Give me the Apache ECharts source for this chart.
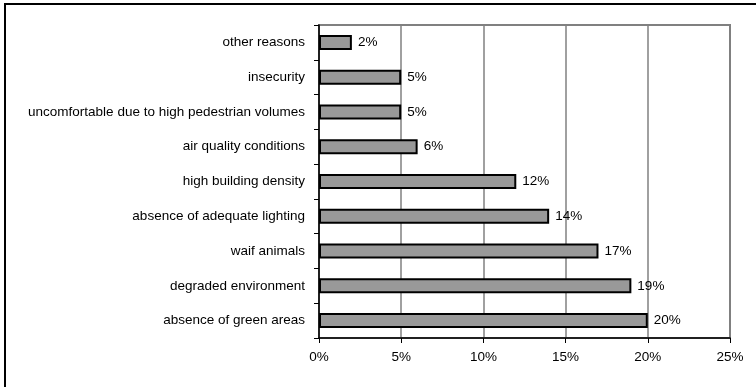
<!DOCTYPE html>
<html>
<head>
<meta charset="utf-8">
<style>
  html, body { margin: 0; padding: 0; background: #fff; }
  #chart { width: 756px; height: 387px; }
</style>
<script src="https://cdn.jsdelivr.net/npm/echarts@6/dist/echarts.min.js"></script>
</head>
<body>
<div id="chart"></div>
<script>
// Reasons, listed from bottom to top of the chart
const categories = [
  'absence of green areas',
  'degraded environment',
  'waif animals',
  'absence of adequate lighting',
  'high building density',
  'air quality conditions',
  'uncomfortable due to high pedestrian volumes',
  'insecurity',
  'other reasons'
];
// Share of respondents (%)
const shares = [20, 19, 17, 14, 12, 6, 5, 5, 2];
const xTicks = [0, 5, 10, 15, 20, 25];

const chart = echarts.init(document.getElementById('chart'), null, { renderer: 'canvas' });

const font = 'Arial, "Liberation Sans", sans-serif';
const fontSize = 13.5;

chart.setOption({
  animation: false,
  backgroundColor: '#fff',
  graphic: [{
    type: 'rect',
    shape: { x: 5, y: 4, width: 760, height: 400 },
    style: { fill: 'none', stroke: '#000', lineWidth: 2 },
    silent: true,
    z: -10
  }],
  grid: {
    left: 319, top: 25, right: 26, bottom: 49,
    show: true,
    borderColor: '#808080',
    borderWidth: 2,
    backgroundColor: 'transparent'
  },
  xAxis: {
    type: 'value',
    min: xTicks[0],
    max: xTicks[xTicks.length - 1],
    interval: 5,
    axisLine: { show: true, lineStyle: { color: '#000', width: 1.5 } },
    axisTick: { show: true, length: 5, lineStyle: { color: '#000' } },
    splitLine: { show: true, lineStyle: { color: '#808080', width: 1.5 } },
    axisLabel: {
      formatter: v => v + '%',
      color: '#000',
      fontFamily: font,
      fontSize: fontSize,
      margin: 12
    }
  },
  yAxis: {
    type: 'category',
    data: categories,
    axisLine: { show: true, lineStyle: { color: '#000', width: 1.5 } },
    axisTick: { show: true, length: 5, inside: false, lineStyle: { color: '#000' } },
    axisLabel: {
      color: '#000',
      fontFamily: font,
      fontSize: fontSize,
      margin: 14
    }
  },
  series: [{
    type: 'bar',
    data: shares,
    barWidth: 15,
    itemStyle: { color: '#999999', borderColor: '#000', borderWidth: 2 },
    label: {
      show: true,
      position: 'right',
      distance: 6,
      formatter: p => p.value + '%',
      color: '#000',
      fontFamily: font,
      fontSize: fontSize
    }
  }]
});
</script>
</body>
</html>
